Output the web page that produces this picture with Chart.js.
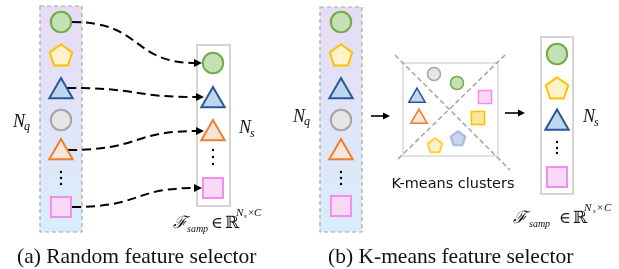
<!DOCTYPE html>
<html><head><meta charset="utf-8">
<script src="https://cdn.jsdelivr.net/npm/chart.js@4/dist/chart.umd.min.js"></script>
<style>html,body{margin:0;padding:0;background:#fff;overflow:hidden}canvas{display:block}</style>
</head><body>
<canvas id="c" width="619" height="269"></canvas>
<script>
// ================= DATA (diagram coordinates in a 619 x 269 value space) =================
// feature tokens: x, y, kind, group ('col' = column token, 'cl' = token inside the cluster box)
const circles = [
  {x:61, y:22, kind:'green', group:'col'}, {x:61, y:120, kind:'gray', group:'col'},
  {x:213, y:63, kind:'green', group:'col'},
  {x:341, y:22, kind:'green', group:'col'}, {x:341, y:120, kind:'gray', group:'col'},
  {x:557, y:54, kind:'green', group:'col'},
  {x:434, y:74, kind:'gray', group:'cl'}, {x:457, y:83, kind:'green', group:'cl'}
];
const triangles = [
  {x:61, y:91.5, kind:'blue', group:'col'}, {x:61, y:152.5, kind:'orange', group:'col'},
  {x:213, y:100.5, kind:'blue', group:'col'}, {x:213, y:133.5, kind:'orange', group:'col'},
  {x:341, y:91.5, kind:'blue', group:'col'}, {x:341, y:152.5, kind:'orange', group:'col'},
  {x:557, y:123, kind:'blue', group:'col'},
  {x:417, y:97.5, kind:'blue', group:'cl'}, {x:419, y:118.5, kind:'orange', group:'cl'}
];
const squares = [
  {x:61, y:207, kind:'pink', group:'col'}, {x:213, y:188, kind:'pink', group:'col'},
  {x:341, y:206, kind:'pink', group:'col'}, {x:557, y:177, kind:'pink', group:'col'},
  {x:485, y:97, kind:'pink', group:'cl'}, {x:478, y:118, kind:'gold', group:'cl'}
];
const pentagons = [
  {x:61, y:56, kind:'yellow', group:'col'}, {x:341, y:56, kind:'yellow', group:'col'},
  {x:557, y:89, kind:'yellow', group:'col'},
  {x:435, y:146, kind:'yellow', group:'cl'}, {x:458, y:139, kind:'lightblue', group:'cl'}
];
const ellipsisDots = [
  {x:61, y:172}, {x:61, y:178}, {x:61, y:184},
  {x:213, y:150}, {x:213, y:157}, {x:213, y:164},
  {x:341, y:172}, {x:341, y:178}, {x:341, y:184},
  {x:557, y:142}, {x:557, y:148}, {x:557, y:153}
];
// containers: [x0, y0, x1, y1]
const queryColumns   = [[40, 6, 82, 232], [320, 7, 362, 232]];
const sampledColumns = [[197, 45, 230, 206], [541, 37, 573, 194]];
const clusterBox     = [403, 63, 498, 156];
const clusterDiagonals = [[395, 55, 510, 170], [505, 55, 397, 160]];
// random-selection connectors: [fromX, fromY, toX, toY]
const connectors = [[72, 22, 202, 63], [67, 88, 204, 97], [68, 150, 204, 131], [72, 207, 202, 188]];
// straight arrows: [fromX, fromY, toX, toY]
const arrows = [[371, 116, 390, 116], [505, 113, 525, 113]];
// text
const captions = ['(a) Random feature selector', '(b) K-means feature selector'];
const captionX = [17, 328];
const clusterLabel = 'K-means clusters';
const nqLabels = [{x:13, y:127}, {x:293, y:122}];
const nsLabels = [{x:239, y:133}, {x:583, y:122}];

// ================= STYLES =================
const fills = {green:'#c5e0b4', gray:'#e7e6e6', blue:'#bdd7ee', orange:'#fbe5d6', pink:'#f7d9f4',
               yellow:'#fff2cc', gold:'#ffe699', lightblue:'#c9d6f0'};
const strokes = {green:'#70ad47', gray:'#a6a6a6', blue:'#2f5597', orange:'#ed7d31', pink:'#f28ded',
                 yellow:'#ffc000', gold:'#ffc000', lightblue:'#8faadc'};
const fillOf = p => fills[p.kind];
const strokeOf = p => strokes[p.kind];

function makePentagon(R, fill, stroke, lw) {
  const s = Math.ceil(2 * (R + lw)) + 2;
  const cv = document.createElement('canvas');
  cv.width = s; cv.height = s;
  const g = cv.getContext('2d');
  g.translate(s / 2, s / 2);
  g.beginPath();
  for (let i = 0; i < 5; i++) {
    const a = -Math.PI / 2 + i * 2 * Math.PI / 5;
    const px = R * Math.cos(a), py = R * Math.sin(a);
    i ? g.lineTo(px, py) : g.moveTo(px, py);
  }
  g.closePath();
  g.fillStyle = fill; g.fill();
  g.lineJoin = 'round';
  g.strokeStyle = stroke; g.lineWidth = lw; g.stroke();
  return cv;
}
const pentStyles = pentagons.map(p => p.group === 'col'
  ? makePentagon(11.8, fillOf(p), strokeOf(p), 2)
  : makePentagon(7.8, fillOf(p), strokeOf(p), 1.5));

// ================= PLUGIN: containers, connectors, texts =================
const serif = '"Liberation Serif","DejaVu Serif",serif';
function arrowHead(ctx, x, y, ang, len, hw) {
  ctx.save();
  ctx.translate(x, y); ctx.rotate(ang);
  ctx.beginPath(); ctx.moveTo(0, 0); ctx.lineTo(-len, -hw); ctx.lineTo(-len, hw); ctx.closePath();
  ctx.fillStyle = '#000'; ctx.fill();
  ctx.restore();
}
function fitFont(ctx, text, family, targetW, base) {
  ctx.font = base + 'px ' + family;
  const w = ctx.measureText(text).width;
  ctx.font = (base * targetW / w).toFixed(2) + 'px ' + family;
}
const diagram = {
  id: 'diagram',
  beforeDatasetsDraw(chart) {
    const ctx = chart.ctx, X = v => chart.scales.x.getPixelForValue(v), Y = v => chart.scales.y.getPixelForValue(v);
    ctx.save();
    queryColumns.forEach(([x0, y0, x1, y1]) => {
      const gr = ctx.createLinearGradient(0, Y(y0), 0, Y(y1));
      gr.addColorStop(0, '#e8dcf4'); gr.addColorStop(1, '#d8edfa');
      ctx.fillStyle = gr; ctx.fillRect(X(x0), Y(y0), X(x1) - X(x0), Y(y1) - Y(y0));
      ctx.setLineDash([4, 3]); ctx.strokeStyle = '#a8a8a8'; ctx.lineWidth = 1.2;
      ctx.strokeRect(X(x0), Y(y0), X(x1) - X(x0), Y(y1) - Y(y0));
    });
    ctx.setLineDash([]);
    sampledColumns.forEach(([x0, y0, x1, y1]) => {
      ctx.fillStyle = '#fff'; ctx.fillRect(X(x0), Y(y0), X(x1) - X(x0), Y(y1) - Y(y0));
      ctx.strokeStyle = '#d4d4d4'; ctx.lineWidth = 2;
      ctx.strokeRect(X(x0), Y(y0), X(x1) - X(x0), Y(y1) - Y(y0));
    });
    {
      const [x0, y0, x1, y1] = clusterBox;
      ctx.strokeStyle = '#d9d9d9'; ctx.lineWidth = 1.5;
      ctx.strokeRect(X(x0), Y(y0), X(x1) - X(x0), Y(y1) - Y(y0));
      ctx.setLineDash([5, 3]); ctx.strokeStyle = '#a3a3a3'; ctx.lineWidth = 1.5;
      clusterDiagonals.forEach(([a, b, c, d]) => {
        ctx.beginPath(); ctx.moveTo(X(a), Y(b)); ctx.lineTo(X(c), Y(d)); ctx.stroke();
      });
      ctx.setLineDash([]);
    }
    connectors.forEach(([a, b, c, d]) => {
      const x0 = X(a), y0 = Y(b), x1 = X(c), y1 = Y(d), dx = x1 - x0;
      const c1x = x0 + 0.55 * dx, c2x = x1 - 0.55 * dx;
      ctx.setLineDash([9, 5]); ctx.strokeStyle = '#000'; ctx.lineWidth = 2;
      ctx.beginPath(); ctx.moveTo(x0, y0);
      ctx.bezierCurveTo(c1x, y0, c2x, y1, x1 - 6, y1); ctx.stroke();
      ctx.setLineDash([]);
      arrowHead(ctx, x1, y1, 0, 8, 4);
    });
    arrows.forEach(([a, b, c, d]) => {
      ctx.strokeStyle = '#000'; ctx.lineWidth = 1.6;
      ctx.beginPath(); ctx.moveTo(X(a), Y(b)); ctx.lineTo(X(c) - 5, Y(d)); ctx.stroke();
      arrowHead(ctx, X(c), Y(d), 0, 7, 3.5);
    });
    ctx.restore();
  },
  afterDatasetsDraw(chart) {
    const ctx = chart.ctx, X = v => chart.scales.x.getPixelForValue(v), Y = v => chart.scales.y.getPixelForValue(v);
    ctx.save();
    ctx.fillStyle = '#111'; ctx.textBaseline = 'alphabetic'; ctx.textAlign = 'left';
    ctx.font = '21.5px ' + serif;
    captions.forEach((t, i) => ctx.fillText(t, X(captionX[i]), Y(263)));
    fitFont(ctx, clusterLabel, '"Comic Sans MS","DejaVu Sans",sans-serif', 123, 14);
    ctx.textAlign = 'center';
    ctx.fillText(clusterLabel, X(453), Y(188));
    ctx.textAlign = 'left';
    const sub = (main, s, p, dy) => {
      ctx.font = 'italic 18px ' + serif;
      ctx.fillText(main, X(p.x), Y(p.y));
      const w = ctx.measureText(main).width;
      ctx.font = 'italic 12px ' + serif;
      ctx.fillText(s, X(p.x) + w - 1, Y(p.y + dy));
    };
    nqLabels.forEach(p => sub('N', 'q', p, 3));
    nsLabels.forEach(p => sub('N', 's', p, 4));
    const fsamp = (xs, base) => {
      ctx.font = 'italic 17px ' + serif;
      ctx.fillText('\u2131', X(xs[0]), Y(base));
      ctx.font = 'italic 10px ' + serif;
      ctx.fillText('samp', X(xs[1]), Y(base + 4));
      ctx.font = '16px ' + serif;
      ctx.fillText('\u2208', X(xs[2]), Y(base));
      ctx.font = '17px ' + serif;
      ctx.fillText('\u211D', X(xs[3]), Y(base));
      ctx.font = 'italic 11px ' + serif;
      ctx.fillText('N', X(xs[4]), Y(base - 12));
      ctx.font = 'italic 7px ' + serif;
      ctx.fillText('s', X(xs[5]), Y(base - 10));
      ctx.font = '11px ' + serif;
      ctx.fillText('\u00D7', X(xs[6]), Y(base - 12));
      ctx.font = 'italic 11px ' + serif;
      ctx.fillText('C', X(xs[7]), Y(base - 12));
    };
    fsamp([173, 187, 211, 225, 236, 244, 248, 254], 228);
    fsamp([513, 529, 559, 573, 584, 593, 597, 604], 223);
    ctx.restore();
  }
};

// ================= CHART =================
new Chart(document.getElementById('c'), {
  type: 'scatter',
  data: {
    datasets: [
      { data: circles, pointStyle: 'circle',
        pointRadius: circles.map(p => p.group === 'col' ? 10.2 : 6.5),
        pointBorderWidth: circles.map(p => p.group === 'col' ? 2 : 1.5),
        pointBackgroundColor: circles.map(fillOf), pointBorderColor: circles.map(strokeOf) },
      { data: triangles, pointStyle: 'triangle',
        pointRadius: triangles.map(p => p.group === 'col' ? 13.5 : 9.5),
        pointBorderWidth: triangles.map(p => p.group === 'col' ? 2 : 1.5),
        pointBackgroundColor: triangles.map(fillOf), pointBorderColor: triangles.map(strokeOf) },
      { data: squares, pointStyle: 'rect',
        pointRadius: squares.map(p => p.group === 'col' ? 14.2 : 9.3),
        pointBorderWidth: squares.map(p => p.group === 'col' ? 2 : 1.5),
        pointBackgroundColor: squares.map(fillOf), pointBorderColor: squares.map(strokeOf) },
      { data: pentagons, pointStyle: pentStyles, pointRadius: 12 },
      { data: ellipsisDots, pointStyle: 'circle', pointRadius: 1.2, pointBorderWidth: 0,
        pointBackgroundColor: '#000', pointBorderColor: '#000' }
    ]
  },
  options: {
    responsive: false, animation: false, devicePixelRatio: 1,
    parsing: {xAxisKey: 'x', yAxisKey: 'y'},
    layout: {padding: 0, autoPadding: false},
    clip: false,
    events: [],
    scales: {
      x: {type: 'linear', min: 0, max: 619, display: false},
      y: {type: 'linear', min: 0, max: 269, reverse: true, display: false}
    },
    plugins: {legend: {display: false}, tooltip: {enabled: false}}
  },
  plugins: [diagram]
});
</script>
</body></html>
